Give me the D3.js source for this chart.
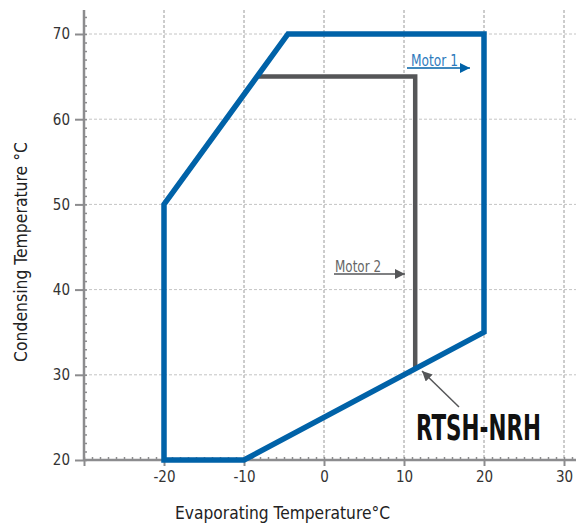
<!DOCTYPE html>
<html>
<head>
<meta charset="utf-8">
<script src="https://cdn.jsdelivr.net/npm/d3@7"></script>
<style>
body { margin: 0; background: #fff; }
text { font-family: "DejaVu Sans Condensed", "Liberation Sans", sans-serif; }
</style>
</head>
<body>
<svg id="chart" width="576" height="526"></svg>
<script>
// envelope of the compressor, evaporating temp vs condensing temp
var motor1X = [-20, -20, -4.5, 20, 20, -10];
var motor1Y = [20, 50, 70, 70, 35, 20];
var motor2X = [-8.4, 11.4, 11.4];
var motor2Y = [65, 65, 30.7];
var xTicks = [-30, -20, -10, 0, 10, 20, 30];
var yTicks = [20, 30, 40, 50, 60, 70];

var svg = d3.select("#chart");
var x = d3.scaleLinear().domain([-30, 30]).range([84, 564]);
var y = d3.scaleLinear().domain([20, 70]).range([460, 34]);

var blue = "#0062a8", grey = "#555658", axisCol = "#8c8c8e";

var defs = svg.append("defs");
function marker(id, col) {
    defs.append("marker").attr("id", id)
	.attr("viewBox", "0 0 10 10").attr("refX", 10).attr("refY", 5)
	.attr("markerWidth", 10).attr("markerHeight", 10)
	.attr("markerUnits", "userSpaceOnUse")
	.attr("orient", "auto")
	.append("path").attr("d", "M0,0L10,5L0,10z").attr("fill", col);
}
marker("ab", blue);
marker("ag", grey);

// grid
svg.append("g").selectAll("line").data(xTicks.slice(1)).enter().append("line")
    .attr("x1", function(d) { return x(d); }).attr("x2", function(d) { return x(d); })
    .attr("y1", 10).attr("y2", 460)
    .attr("stroke", "#9a9a9a").attr("stroke-width", 1).attr("stroke-dasharray", "3,2");
svg.append("g").selectAll("line").data(yTicks.slice(1)).enter().append("line")
    .attr("x1", 84).attr("x2", 576)
    .attr("y1", function(d) { return y(d); }).attr("y2", function(d) { return y(d); })
    .attr("stroke", "#c4c4c4").attr("stroke-width", 1).attr("stroke-dasharray", "3,2");

// minor ticks (inside)
var minor = d3.range(-30, 32, 1);
svg.append("g").attr("transform", "translate(0,460)")
    .call(d3.axisTop(x).tickValues(minor).tickSize(3).tickFormat(""))
    .call(function(g) { g.select(".domain").remove(); g.selectAll("line").attr("stroke", axisCol).attr("stroke-width", 1.5); });
svg.append("g").attr("transform", "translate(84,0)")
    .call(d3.axisRight(y).tickValues(d3.range(20, 73, 1)).tickSize(3).tickFormat(""))
    .call(function(g) { g.select(".domain").remove(); g.selectAll("line").attr("stroke", axisCol).attr("stroke-width", 1.5); });

// major axes
var xa = svg.append("g").attr("transform", "translate(0,460)")
    .call(d3.axisBottom(x).tickValues(xTicks).tickSize(6).tickPadding(5)
	  .tickFormat(function(d) { return d == -30 ? "" : String(d); }));
var ya = svg.append("g").attr("transform", "translate(84,0)")
    .call(d3.axisLeft(y).tickValues(yTicks).tickSize(9).tickPadding(5).tickFormat(String));
[xa, ya].forEach(function(g) {
    g.select(".domain").remove();
    g.selectAll("line").attr("stroke", axisCol).attr("stroke-width", 2);
    g.selectAll("text").attr("fill", "#333").style("font-size", "15px")
	.style("font-family", "'DejaVu Sans Condensed', sans-serif");
});
svg.append("line").attr("x1", 84).attr("x2", 576).attr("y1", 460).attr("y2", 460)
    .attr("stroke", axisCol).attr("stroke-width", 2.5);
svg.append("line").attr("x1", 84).attr("x2", 84).attr("y1", 10).attr("y2", 460)
    .attr("stroke", axisCol).attr("stroke-width", 2.5);

// axis titles
svg.append("text").attr("x", 175).attr("y", 519)
    .attr("textLength", 215).attr("lengthAdjust", "spacingAndGlyphs")
    .attr("fill", "#222").style("font-size", "18px").text("Evaporating Temperature°C");
svg.append("text").attr("transform", "translate(27,362) rotate(-90)")
    .attr("textLength", 220).attr("lengthAdjust", "spacingAndGlyphs")
    .attr("fill", "#222").style("font-size", "18px").text("Condensing Temperature °C");

var line = d3.line().x(function(d) { return x(d[0]); }).y(function(d) { return y(d[1]); });

svg.append("path").datum(d3.zip(motor2X, motor2Y)).attr("d", line)
    .attr("fill", "none").attr("stroke", grey).attr("stroke-width", 4.5);
svg.append("path").datum(d3.zip(motor1X, motor1Y)).attr("d", function(d) { return line(d) + "Z"; })
    .attr("fill", "none").attr("stroke", blue).attr("stroke-width", 5.5)
    .attr("stroke-linejoin", "miter");

// labels
svg.append("text").attr("x", 411).attr("y", 66).attr("fill", "#2f7bbd")
    .attr("textLength", 47).attr("lengthAdjust", "spacingAndGlyphs")
    .style("font-size", "15px").text("Motor 1");
svg.append("line").attr("x1", 407).attr("x2", 470).attr("y1", 68).attr("y2", 68)
    .attr("stroke", blue).attr("stroke-width", 1.5).attr("marker-end", "url(#ab)");
svg.append("text").attr("x", 335).attr("y", 272).attr("fill", "#666")
    .attr("textLength", 46).attr("lengthAdjust", "spacingAndGlyphs")
    .style("font-size", "15px").text("Motor 2");
svg.append("line").attr("x1", 334).attr("x2", 405).attr("y1", 274).attr("y2", 274)
    .attr("stroke", grey).attr("stroke-width", 1.5).attr("marker-end", "url(#ag)");

svg.append("line").attr("x1", 459).attr("y1", 407).attr("x2", 422).attr("y2", 371)
    .attr("stroke", grey).attr("stroke-width", 1.5).attr("marker-end", "url(#ag)");
// squeeze the model name horizontally so it keeps its tall narrow look
var modelLabel = svg.append("text").attr("fill", "#111")
    .style("font-size", "35px").style("font-weight", "bold").text("RTSH-NRH");
var natW = modelLabel.node().getComputedTextLength();
modelLabel.attr("transform", "translate(416,440) scale(" + (125 / natW) + ",1)");
</script>
</body>
</html>
